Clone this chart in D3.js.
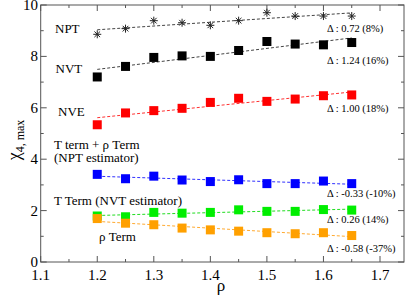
<!DOCTYPE html>
<html>
<head>
<meta charset="utf-8">
<script src="https://cdn.jsdelivr.net/npm/d3@7/dist/d3.min.js"></script>
<style>
  body { margin: 0; background: #fff; }
</style>
</head>
<body>
<svg id="viz" width="409" height="295" font-family="'Liberation Serif', 'Times New Roman', 'DejaVu Serif', serif"></svg>
<script>
// densities
var rho = [1.2, 1.25, 1.3, 1.35, 1.4, 1.45, 1.5, 1.55, 1.6, 1.65];

// chi_4,max values
var npt   = [8.86, 9.08, 9.39, 9.31, 9.21, 9.39, 9.70, 9.57, 9.57, 9.57];
var nvt   = [7.20, 7.61, 7.96, 8.02, 8.00, 8.23, 8.58, 8.48, 8.45, 8.54];
var nve   = [5.34, 5.80, 5.89, 5.98, 6.21, 6.37, 6.25, 6.34, 6.47, 6.50];
var tPlusRho = [3.41, 3.24, 3.34, 3.19, 3.13, 3.20, 3.05, 3.05, 3.15, 3.05];
var tTerm    = [1.79, 1.76, 1.93, 1.90, 1.93, 2.03, 1.97, 1.97, 2.04, 2.02];
var rhoTerm  = [1.69, 1.51, 1.45, 1.32, 1.25, 1.20, 1.14, 1.10, 1.14, 1.03];

var deltaLabels = ["\u0394 : 0.72 (8%)", "\u0394 : 1.24 (16%)", "\u0394 : 1.00 (18%)",
                   "\u0394 : -0.33 (-10%)", "\u0394 : 0.26 (14%)", "\u0394 : -0.58 (-37%)"];

var xTicks = [1.1, 1.2, 1.3, 1.4, 1.5, 1.6, 1.7];
var yTicks = [0, 2, 4, 6, 8, 10];

var series = [
  {values: npt,      color: "#000000", line: "#444444", marker: "star"},
  {values: nvt,      color: "#000000", line: "#444444", marker: "square"},
  {values: nve,      color: "#ff0000", line: "#ff3030", marker: "square"},
  {values: tPlusRho, color: "#0000ff", line: "#3030ff", marker: "square"},
  {values: tTerm,    color: "#00ee00", line: "#20dd20", marker: "square"},
  {values: rhoTerm,  color: "#ffa000", line: "#ffaa30", marker: "square"}
];

var svg = d3.select("#viz");
var x = d3.scaleLinear().domain([1.1, 1.7]).range([40.7, 380]);
var y = d3.scaleLinear().domain([0, 10]).range([262, 5]);
var x0 = 40.7, x1 = 404, y0 = 262, y1 = 5;

// frame
svg.append("rect").attr("x", x0).attr("y", y1).attr("width", x1 - x0).attr("height", y0 - y1)
  .attr("fill", "none").attr("stroke", "#555").attr("stroke-width", 1);

// ticks, all pointing inward
var g = svg.append("g").attr("stroke", "#555").attr("stroke-width", 1);
d3.range(1.1, 1.76, 0.05).forEach(function(v, i){
  var len = i % 2 === 0 ? 6 : 3, px = x(v);
  if (px > x1) return;
  g.append("line").attr("x1", px).attr("x2", px).attr("y1", y0).attr("y2", y0 - len);
  g.append("line").attr("x1", px).attr("x2", px).attr("y1", y1).attr("y2", y1 + len);
});
d3.range(0, 11, 1).forEach(function(v){
  var len = v % 2 === 0 ? 6 : 3, py = y(v);
  g.append("line").attr("x1", x0).attr("x2", x0 + len).attr("y1", py).attr("y2", py);
  g.append("line").attr("x1", x1).attr("x2", x1 - len).attr("y1", py).attr("y2", py);
});

// tick labels
svg.selectAll(".xt").data(xTicks).enter().append("text")
  .attr("x", d => x(d)).attr("y", 280).attr("text-anchor", "middle")
  .attr("font-size", 15).text(d => d3.format(".1f")(d));
svg.selectAll(".yt").data(yTicks).enter().append("text")
  .attr("x", 38).attr("y", d => y(d) + 5).attr("text-anchor", "end")
  .attr("font-size", 15).text(d => d);

// axis titles
svg.append("text").attr("x", 221).attr("y", 291).attr("text-anchor", "middle")
  .attr("font-size", 17).text("\u03c1");
var yl = svg.append("text").attr("transform", "translate(20,140) rotate(-90)")
  .attr("text-anchor", "middle").attr("font-size", 18).text("\u03c7");
yl.append("tspan").attr("font-size", 12).attr("dy", 4).text("4, max");

// linear fits
function fit(vals){
  var mx = d3.mean(rho), my = d3.mean(vals);
  var b = d3.sum(rho, (r, i) => (r - mx) * (vals[i] - my)) / d3.sum(rho, r => (r - mx) * (r - mx));
  return function(r){ return my + b * (r - mx); };
}

series.forEach(function(s){
  var f = fit(s.values);
  svg.append("line")
    .attr("x1", x(rho[0])).attr("y1", y(f(rho[0])))
    .attr("x2", x(rho[rho.length - 1])).attr("y2", y(f(rho[rho.length - 1])))
    .attr("stroke", s.line).attr("stroke-width", 1).attr("stroke-dasharray", "3,2");

  var pts = svg.append("g");
  s.values.forEach(function(v, i){
    var px = x(rho[i]), py = y(v);
    if (s.marker === "square") {
      pts.append("rect").attr("x", px - 4.5).attr("y", py - 4.5)
        .attr("width", 9).attr("height", 9).attr("fill", s.color);
    } else {
      var star = pts.append("g").attr("transform", "translate(" + px + "," + py + ")")
        .attr("stroke", "#222").attr("stroke-width", 1);
      [0, 45, 90, 135].forEach(function(a){
        var r = 4, t = a * Math.PI / 180;
        star.append("line").attr("x1", -r * Math.cos(t)).attr("y1", -r * Math.sin(t))
          .attr("x2", r * Math.cos(t)).attr("y2", r * Math.sin(t));
      });
    }
  });
});

// series labels
var labels = [
  {t: "NPT", x: 55, y: 33},
  {t: "NVT", x: 55.5, y: 72.5},
  {t: "NVE", x: 58, y: 116},
  {t: "T term + \u03c1 Term", x: 54, y: 149},
  {t: "(NPT estimator)", x: 54, y: 161.5},
  {t: "T Term (NVT estimator)", x: 54, y: 205},
  {t: "\u03c1 Term", x: 99, y: 241}
];
svg.selectAll(".lab").data(labels).enter().append("text")
  .attr("x", d => d.x).attr("y", d => d.y).attr("font-size", 13).text(d => d.t);

var dy = [31.5, 64, 112, 197, 223, 251.5];
svg.selectAll(".dl").data(deltaLabels).enter().append("text")
  .attr("x", 327).attr("y", (d, i) => dy[i]).attr("font-size", 10.5).text(d => d);
</script>
</body>
</html>
